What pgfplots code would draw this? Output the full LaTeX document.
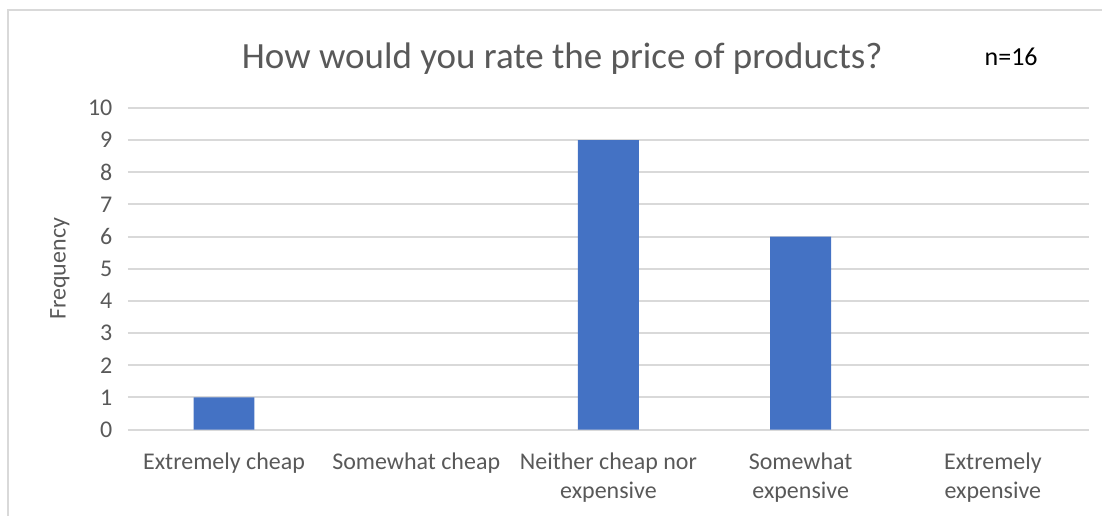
\documentclass[border=0pt]{standalone}
\usepackage{fontspec}
\setmainfont{Carlito}
\usepackage{pgfplots}
\pgfplotsset{compat=1.18}
\definecolor{barblue}{HTML}{4472C4}
\definecolor{txtgray}{HTML}{595959}
\definecolor{gridgray}{HTML}{D9D9D9}
\begin{document}
\begin{tikzpicture}
\begin{axis}[
    scale only axis, width=962pt, height=322pt,
    clip=false,
    ybar, bar width=61pt,
    xmin=-0.5, xmax=4.5, ymin=0, ymax=10,
    xtick={0,1,2,3,4},
    xticklabels={Extremely cheap, Somewhat cheap, {Neither cheap nor\\expensive}, {Somewhat\\expensive}, {Extremely\\expensive}},
    ytick={0,1,...,10},
    axis line style={draw=none},
    major tick length=0pt,
    ymajorgrids, grid style={gridgray, line width=2pt},
    tick label style={font=\fontsize{24}{29}\selectfont, text=txtgray},
    xticklabel style={align=center, yshift=-20pt},
    yticklabel style={xshift=-12pt},
    /pgf/number format/assume math mode=true,
    ylabel={Frequency},
    ylabel style={font=\fontsize{24}{29}\selectfont, text=txtgray, at={(axis description cs:-0.0707,0.5)}, anchor=center},
    title={How would you rate the price of products?},
    title style={font=\fontsize{37}{44}\selectfont, text=txtgray, at={(axis description cs:0.452,1.134)}, anchor=center},
]
\addplot[fill=barblue, draw=none] coordinates {(0,1) (2,9) (3,6)};
\node[font=\fontsize{26}{30}\selectfont, text=black] at (axis description cs:0.919,1.158) {n=16};
\end{axis}
\draw[gridgray, line width=2pt] (-120pt,-86pt) -- (-120pt,420pt) -- (975pt,420pt);
\useasboundingbox (-128pt,-86pt) rectangle (975pt,430pt);
\end{tikzpicture}
\end{document}
